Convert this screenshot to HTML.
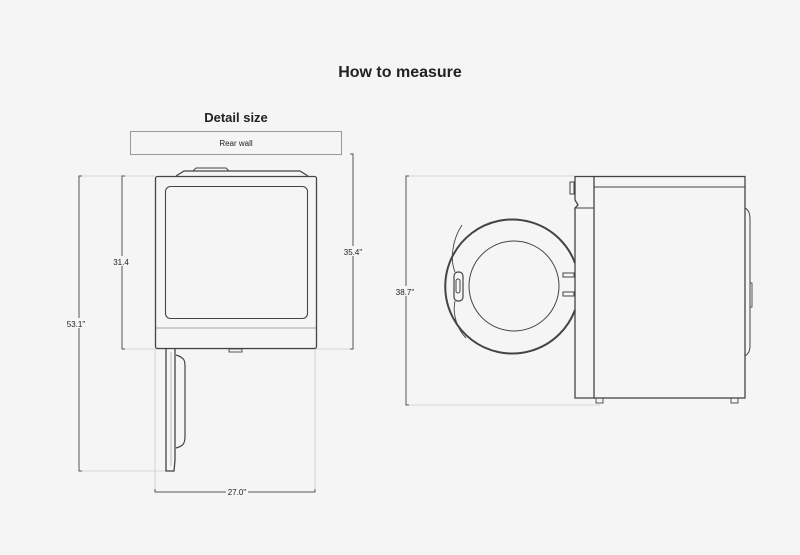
<!DOCTYPE html>
<html><head><meta charset="utf-8"><style>
html,body{margin:0;padding:0;background:#f5f5f5;}
svg{display:block;}
text{font-family:"Liberation Sans",sans-serif;fill:#222;}
</style></head><body>
<svg width="800" height="555" viewBox="0 0 800 555" xmlns="http://www.w3.org/2000/svg">
<rect width="800" height="555" fill="#f5f5f5"/>
<text x="400" y="77" font-size="16" text-anchor="middle" font-weight="bold" fill="#1a1a1a">How to measure</text>
<text x="236" y="122" font-size="13" text-anchor="middle" font-weight="bold">Detail size</text>
<rect x="130.5" y="131.5" width="211" height="23" fill="#f5f5f5" stroke="#999" stroke-width="1"/>
<text x="236" y="146" font-size="8" text-anchor="middle">Rear wall</text>

<!-- extension lines -->
<g stroke="#ccc" stroke-width="0.8" fill="none">
<line x1="79" y1="176" x2="155" y2="176"/>
<line x1="79" y1="471" x2="168" y2="471"/>
<line x1="122" y1="349" x2="353" y2="349"/>
<line x1="155" y1="349" x2="155" y2="492"/>
<line x1="315" y1="349" x2="315" y2="492"/>
<line x1="406" y1="176" x2="575" y2="176"/>
<line x1="406" y1="405" x2="600" y2="405"/>
</g>
<!-- dimension lines -->
<g stroke="#555" stroke-width="1" fill="none">
<path d="M82 176H79V471H82"/>
<path d="M125 176H122V349H125"/>
<path d="M350 154H353V349H350"/>
<path d="M409 176H406V405H409"/>
<path d="M155 489V492H226 M248 492H315V489"/>
</g>
<g font-size="8" text-anchor="middle">
<rect x="68" y="318" width="22" height="10" fill="#f5f5f5"/>
<text x="76" y="327">53.1"</text>
<rect x="112" y="256" width="20" height="10" fill="#f5f5f5"/>
<text x="121" y="265">31.4</text>
<rect x="341" y="246" width="24" height="10" fill="#f5f5f5"/>
<text x="353" y="255">35.4"</text>
<rect x="394" y="286" width="24" height="10" fill="#f5f5f5"/>
<text x="405" y="295">38.7"</text>
<text x="237" y="495">27.0"</text>
</g>

<!-- left washer top view -->
<g stroke="#444" fill="none" stroke-width="1.3">
<path d="M176 176 L184 171 H300 L308 176"/>
<path d="M193 171 L196 168 H226 L229 171" stroke-width="1"/>
<rect x="155.5" y="176.5" width="161" height="172" rx="2"/>
<rect x="165.5" y="186.5" width="142" height="132" rx="5" stroke-width="1.1"/>
<line x1="156" y1="328" x2="316" y2="328" stroke-width="0.8" stroke="#888"/>
<rect x="229" y="349" width="13" height="3" stroke-width="0.9"/>
<path d="M166 349 V471 H174 L175 460 V349" stroke-width="1.3"/>
<path d="M176 355 C186 358 185 362 185 370 V436 C185 444 183 446 176 448" stroke-width="1.2"/>
<line x1="171" y1="352" x2="171" y2="466" stroke-width="0.6" stroke="#999"/>
</g>

<!-- right washer side view -->
<g stroke="#444" fill="none" stroke-width="1.3">
<rect x="594" y="176.5" width="151" height="221.5"/>
<line x1="594" y1="187" x2="745" y2="187" stroke-width="0.9"/>
<path d="M594 176.5 H575 V200 L578 205 L575 208 V398 H594"/>
<line x1="575" y1="208" x2="594" y2="208" stroke-width="0.9"/>
<rect x="570" y="182" width="4" height="12" stroke-width="1"/>
<path d="M745 208 C749 210 750 214 750 220 V345 C750 352 748 354 745 356" stroke-width="1"/>
<rect x="750" y="283" width="2" height="24" stroke-width="0.9"/>
<rect x="596" y="398" width="7" height="5" stroke-width="0.9"/>
<rect x="731" y="398" width="7" height="5" stroke-width="0.9"/>
<path d="M575 263 A67 67 0 1 0 575 310" stroke-width="2"/>
<circle cx="514" cy="286" r="45" stroke-width="1"/>
<rect x="454" y="272" width="9" height="29" rx="4" stroke-width="1.2"/>
<rect x="456" y="279" width="4" height="14" rx="2" stroke-width="1"/>
<path d="M462 225 C452 240 450 260 455 272 M455 301 C452 315 458 330 466 338" stroke-width="0.9"/>
<rect x="563" y="273" width="11" height="4" stroke-width="1"/>
<rect x="563" y="292" width="11" height="4" stroke-width="1"/>
</g>
</svg>
</body></html>
